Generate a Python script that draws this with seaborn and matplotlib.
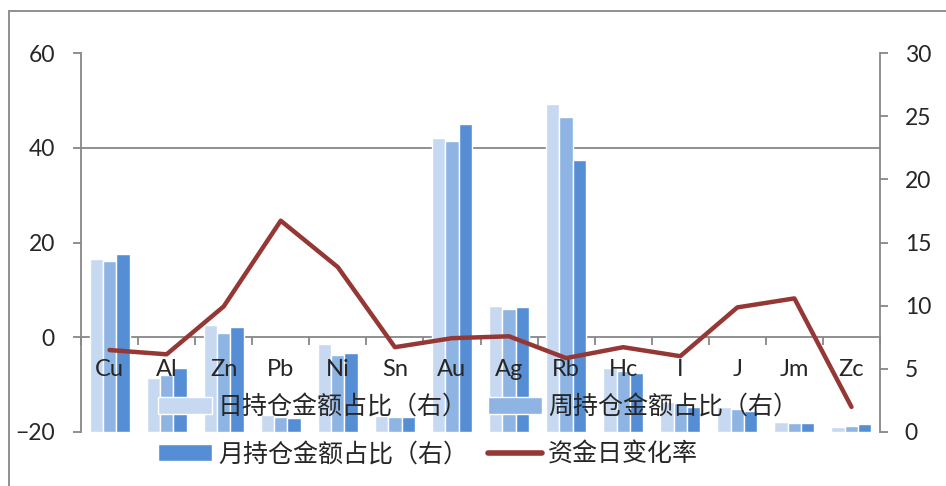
import numpy as np
import pandas as pd
import matplotlib
matplotlib.use("Agg")
import matplotlib.pyplot as plt
import seaborn as sns
from matplotlib.patches import Patch, Rectangle
from matplotlib.lines import Line2D
from matplotlib.ticker import FixedLocator

# data
categories = ["Cu", "Al", "Zn", "Pb", "Ni", "Sn", "Au", "Ag", "Rb", "Hc", "I", "J", "Jm", "Zc"]
day_share = [13.7, 4.3, 8.5, 1.35, 7.0, 1.25, 23.3, 10.0, 26.0, 5.1, 2.35, 1.95, 0.8, 0.4]
week_share = [13.5, 4.5, 7.8, 1.2, 6.1, 1.2, 23.0, 9.7, 24.9, 4.8, 2.3, 1.85, 0.75, 0.45]
month_share = [14.1, 5.05, 8.3, 1.1, 6.25, 1.2, 24.4, 9.9, 21.5, 4.7, 1.95, 1.65, 0.73, 0.6]
fund_change = [-2.7, -3.6, 6.5, 24.6, 14.8, -2.1, -0.2, 0.2, -4.4, -2.1, -4.0, 6.3, 8.2, -14.7]

series_names = ["日持仓金额占比（右）", "周持仓金额占比（右）", "月持仓金额占比（右）"]
line_name = "资金日变化率"
left_ticks = [-20, 0, 20, 40, 60]
right_ticks = [0, 5, 10, 15, 20, 25, 30]

bar_colors = ["#C6D9F1", "#8DB4E2", "#558ED5"]
line_color = "#953735"
grid_color = "#878787"
tick_len = 5.8  # ~8 px

sns.set_style("white")
plt.rcParams["font.family"] = ["Lato", "Noto Sans CJK SC", "DejaVu Sans"]

n = len(categories)
df = pd.DataFrame({
    "品种": categories * 3,
    "系列": np.repeat(series_names, n),
    "占比": day_share + week_share + month_share,
})

fig = plt.figure(figsize=(9.46, 4.86), dpi=100)
ax = fig.add_axes([81 / 946, 1 - 432 / 486, (880 - 81) / 946, (432 - 53) / 486])
ax2 = ax.twinx()

# bars on the right-hand scale
sns.barplot(data=df, x="品种", y="占比", hue="系列", hue_order=series_names,
            palette=bar_colors, width=0.7, gap=0, saturation=1,
            errorbar=None, legend=False, ax=ax)
ax.set_ylim(right_ticks[0], right_ticks[-1])
ax.set_axisbelow(True)
ax.yaxis.tick_right()
ax.set_yticks(right_ticks)
# gridlines follow the left scale
lo, hi = left_ticks[0], left_ticks[-1]
grid_pos = [(t - lo) / (hi - lo) * right_ticks[-1] for t in left_ticks]
ax.yaxis.set_minor_locator(FixedLocator(grid_pos))
ax.grid(False)
ax.grid(axis="y", which="minor", color=grid_color, lw=1.3)
ax.tick_params(axis="y", which="major", direction="out", length=tick_len, width=1.3,
               color=grid_color, pad=12, labelsize=16.5, right=True, left=False,
               labelright=True, labelleft=False)
ax.tick_params(axis="y", which="minor", length=0)
for s in ["left", "top"]:
    ax.spines[s].set_visible(False)
ax.spines["right"].set_color(grid_color)
ax.spines["right"].set_linewidth(1.3)
ax.spines["bottom"].set_position(("data", grid_pos[left_ticks.index(0)]))
ax.spines["bottom"].set_visible(False)
ax.set_xlabel("")
ax.set_ylabel("")

# line on the left-hand scale
sns.lineplot(x=np.arange(n), y=fund_change, color=line_color, lw=3.2, ax=ax2)
ax2.set_ylim(lo, hi)
ax2.yaxis.tick_left()
ax2.set_yticks(left_ticks)
ax2.tick_params(axis="y", direction="out", length=tick_len, width=1.3, color=grid_color,
                pad=13, labelsize=16.5, left=True, right=False,
                labelleft=True, labelright=False)
for s in ["right", "top", "bottom"]:
    ax2.spines[s].set_visible(False)
ax2.spines["left"].set_color(grid_color)
ax2.spines["left"].set_linewidth(1.3)
ax2.grid(False)

# category axis sits at zero of the left scale
ax2.xaxis.set_visible(True)
ax2.spines["bottom"].set_position(("data", 0))
ax2.set_xticks(np.arange(n))
ax2.set_xticklabels(categories)
ax2.xaxis.set_minor_locator(FixedLocator(np.arange(n + 1) - 0.5))
ax2.tick_params(axis="x", which="major", length=0, pad=16, labelsize=17,
                bottom=True, labelbottom=True)
ax2.tick_params(axis="x", which="minor", length=0)
ax.tick_params(axis="x", which="major", length=0, labelbottom=False)
ax.tick_params(axis="x", which="minor", direction="out", length=tick_len, width=1.3,
               color=grid_color, bottom=True)
ax.set_xlim(-0.5, n - 0.5)

handles = [Patch(fc=bar_colors[0]), Patch(fc=bar_colors[2]),
           Patch(fc=bar_colors[1]), Line2D([], [], color=line_color, lw=4)]
labels = [series_names[0], series_names[2], series_names[1], line_name]
fig.legend(handles, labels, ncol=2, loc="upper left",
           bbox_to_anchor=(158 / 946, 1 - 394 / 486), frameon=False,
           prop={"family": ["Noto Sans CJK SC"], "size": 18},
           handlelength=2.15, handleheight=0.65, handletextpad=0.25,
           columnspacing=0.8, labelspacing=0.86, borderpad=0, borderaxespad=0)

# outer chart frame
fig.patches.append(Rectangle((9 / 946, -0.1), 1.2, 1.1 - 11 / 486, fill=False,
                             ec=grid_color, lw=1.3, transform=fig.transFigure))

fig.savefig("out.png", dpi=100)
